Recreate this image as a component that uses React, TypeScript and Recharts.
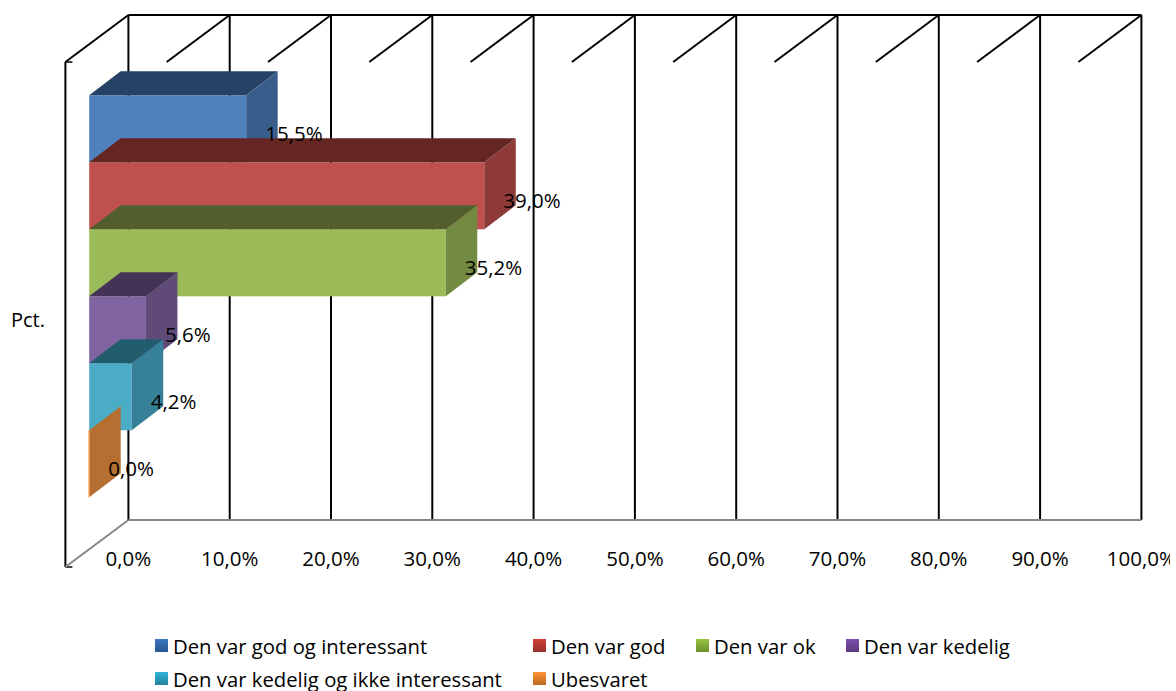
import { Bar, BarChart, CartesianGrid, LabelList, Legend, XAxis, YAxis } from 'recharts';

const categories = ['Pct.'];
const seriesNames = [
  'Den var god og interessant',
  'Den var god',
  'Den var ok',
  'Den var kedelig',
  'Den var kedelig og ikke interessant',
  'Ubesvaret',
];
const seriesValues = [15.5, 39.0, 35.2, 5.6, 4.2, 0.0];
const tickValues = [0, 10, 20, 30, 40, 50, 60, 70, 80, 90, 100];

const frontColors = ['#4F81BD', '#C0504D', '#9BBB59', '#8064A2', '#4BACC6', '#F79646'];
const topColors = ['#264365', '#652523', '#525F2D', '#433357', '#215D6D', '#8A4F1C'];
const sideColors = ['#3A5E8C', '#8E3A38', '#728A41', '#5F4A78', '#37809A', '#B46F31'];
const legendTop = ['#3A76C4', '#D23F3B', '#96C43E', '#7E50B0', '#30B4D8', '#FF9433'];
const legendBottom = ['#2A568E', '#96302C', '#6C8E2E', '#5B3A80', '#23839D', '#B96A24'];

const data = categories.map((name) => {
  const row: Record<string, string | number> = { name };
  seriesNames.forEach((s, i) => (row[s] = seriesValues[i]));
  return row;
});

const FONT = '"Open Sans", "Noto Sans", sans-serif';
// depth of the bars, and how far the bars sit in front of the back wall
const DX = 31.5;
const DY = 24;
const SHIFT_X = -39.2;
const SHIFT_Y = 29.3;
// depth of the whole box
const WALL_X = 63;
const WALL_Y = 47;

const pct = (v: number) => v.toFixed(1).replace('.', ',') + '%';

function bar3d(i: number) {
  return (props: any) => {
    const x = props.x + SHIFT_X;
    const y = props.y + SHIFT_Y;
    const w = props.width;
    const h = props.height;
    return (
      <g>
        <rect x={x} y={y} width={w} height={h} fill={frontColors[i]} />
        <polygon
          points={`${x},${y} ${x + DX},${y - DY} ${x + w + DX},${y - DY} ${x + w},${y}`}
          fill={topColors[i]}
        />
        <polygon
          points={`${x + w},${y} ${x + w + DX},${y - DY} ${x + w + DX},${y + h - DY} ${x + w},${y + h}`}
          fill={sideColors[i]}
        />
        {w < 1 && <line x1={x} y1={y} x2={x} y2={y + h} stroke={frontColors[i]} strokeWidth={1.5} />}
      </g>
    );
  };
}

function valueLabel(props: any) {
  const x = props.x + props.width + SHIFT_X + 19;
  const y = props.y + props.height / 2 + SHIFT_Y + 5;
  return (
    <text x={x} y={y} dy="0.35em" fontSize={20.5} fontFamily={FONT} fill="#000">
      {pct(Number(props.value))}
    </text>
  );
}

function gridLine(props: any) {
  const { x1, y1, y2, index } = props;
  return (
    <g key={`g-${index}`}>
      <line x1={x1} y1={y1} x2={x1} y2={y2} stroke="#000" strokeWidth={2} />
      <line x1={x1} y1={y1} x2={x1 - WALL_X} y2={y1 + WALL_Y} stroke="#000" strokeWidth={2} />
      {index === 0 && (
        <g>
          <line x1={x1} y1={y1} x2={x1 + 1013} y2={y1} stroke="#000" strokeWidth={2} />
          <line x1={x1 - WALL_X} y1={y1 + WALL_Y} x2={x1 - WALL_X} y2={y2 + WALL_Y} stroke="#000" strokeWidth={2} />
          <line x1={x1 - WALL_X} y1={y1 + WALL_Y} x2={x1 - WALL_X + 7} y2={y1 + WALL_Y} stroke="#000" strokeWidth={1.5} />
          <line x1={x1 - WALL_X} y1={y2 + WALL_Y} x2={x1 - WALL_X + 7} y2={y2 + WALL_Y} stroke="#000" strokeWidth={1.5} />
          <line x1={x1} y1={y2} x2={x1 - WALL_X} y2={y2 + WALL_Y} stroke="#868686" strokeWidth={2} />
        </g>
      )}
    </g>
  );
}

function CategoryTick(props: any) {
  return (
    <text x={11} y={props.y + 52} dy="0.35em" fontSize={20} fontFamily={FONT} fill="#000">
      {props.payload.value}
    </text>
  );
}

function LegendBox({ payload }: any) {
  return (
    <div
      style={{
        display: 'grid',
        gridTemplateColumns: '378px 163px 150px auto',
        gridAutoRows: '33px',
        paddingLeft: 155,
        fontFamily: FONT,
        fontSize: 20.3,
        color: '#000',
      }}
    >
      {(payload ?? []).map((p: any) => {
        const i = seriesNames.indexOf(p.value);
        return (
          <div key={p.value} style={{ display: 'flex', alignItems: 'center', whiteSpace: 'nowrap' }}>
            <span
              style={{
                width: 13,
                height: 13,
                marginRight: 5,
                background: `linear-gradient(${legendTop[i]}, ${legendBottom[i]})`,
              }}
            />
            {p.value}
          </div>
        );
      })}
    </div>
  );
}

export default function App() {
  return (
    <div style={{ position: 'absolute', left: 0, top: 0, width: 1170, height: 691, overflow: 'hidden', background: '#fff' }}>
      <BarChart
        width={1176}
        height={691}
        data={data}
        layout="vertical"
        barCategoryGap={51}
        barGap={0}
        margin={{ top: 15, right: 34.6, bottom: 75, left: 0 }}
      >
        <CartesianGrid horizontal={false} vertical={gridLine} />
        <XAxis
          type="number"
          domain={[0, 100]}
          ticks={tickValues}
          tickFormatter={pct}
          tickLine={false}
          height={30}
          stroke="#868686"
          strokeWidth={2}
          tick={{ fill: '#000', fontSize: 20.5, fontFamily: FONT, dy: 23 }}
          interval={0}
        />
        <YAxis type="category" dataKey="name" width={128.4} tickLine={false} axisLine={false} tick={<CategoryTick />} />
        <Legend
          verticalAlign="bottom"
          height={55}
          itemSorter={null}
          content={<LegendBox />}
          wrapperStyle={{ left: 0, top: 629, bottom: 'auto', width: 1176, height: 66 }}
        />
        {seriesNames.map((s, i) => (
          <Bar key={s} dataKey={s} fill={frontColors[i]} shape={bar3d(i)} isAnimationActive={false}>
            <LabelList dataKey={s} content={valueLabel} />
          </Bar>
        ))}
      </BarChart>
    </div>
  );
}
